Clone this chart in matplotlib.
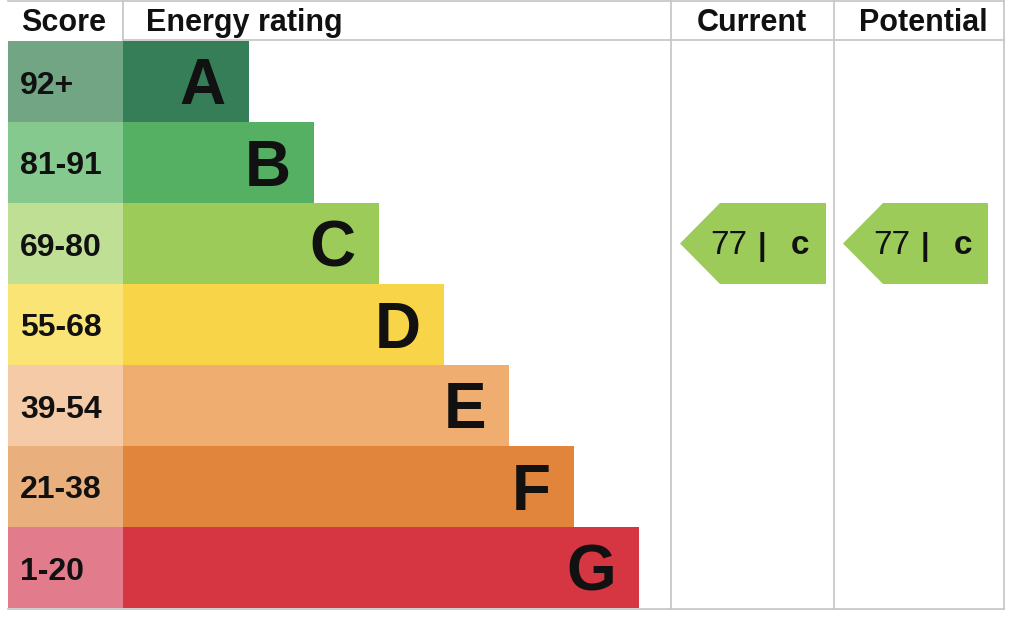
import matplotlib
matplotlib.use("Agg")
import matplotlib.pyplot as plt
from matplotlib.patches import Rectangle, Polygon

# ---- data ----
ratings = ["A", "B", "C", "D", "E", "F", "G"]
score_ranges = ["92+", "81-91", "69-80", "55-68", "39-54", "21-38", "1-20"]
score_lows = [92, 81, 69, 55, 39, 21, 1]
bar_colors = ["#367e58", "#55b063", "#9ccb5a", "#f8d448", "#efae70", "#e2853c", "#d63641"]
cell_colors = ["#72a584", "#86c98f", "#bfdf95", "#fbe476", "#f5caa6", "#e9b07e", "#e27b8c"]
headers = ["Score", "Energy rating", "Current", "Potential"]
current_score = 77
potential_score = 77

plt.rcParams["font.family"] = ["Liberation Sans", "DejaVu Sans"]

fig = plt.figure(figsize=(10.24, 6.28), dpi=100)
ax = fig.add_axes([0, 0, 1, 1])
ax.set_xlim(0, 1024)
ax.set_ylim(628, 0)
ax.axis("off")

left = 8
score_w = 115
bar_x0 = 123
row_top = 41
row_h = 81
bar_base = 126
bar_step = 65
col_cur = (671, 834)
col_pot = (834, 1004)
bottom = row_top + row_h * len(ratings)
grid = "#c8c8c8"
ink = "#111111"

for i, (r, s, bc, cc) in enumerate(zip(ratings, score_ranges, bar_colors, cell_colors)):
    y0 = row_top + i * row_h
    yc = y0 + row_h / 2
    ax.add_patch(Rectangle((left, y0), score_w, row_h, facecolor=cc, edgecolor="none"))
    w = bar_base + bar_step * i
    ax.add_patch(Rectangle((bar_x0, y0), w, row_h, facecolor=bc, edgecolor="none"))
    ax.text(left + 12, yc + 12, s, fontsize=23, fontweight="bold",
            ha="left", va="baseline", color=ink)
    ax.text(bar_x0 + w - 23, yc + 23, r, fontsize=46, fontweight="bold",
            ha="right", va="baseline", color=ink)

# grid lines
lw = 1.3
ax.plot([left, 1004], [0.7, 0.7], color=grid, lw=lw)
ax.plot([bar_x0, 1004], [40, 40], color=grid, lw=lw)
ax.plot([left, 1004], [bottom + 1, bottom + 1], color=grid, lw=lw)
ax.plot([bar_x0, bar_x0], [0, 40], color=grid, lw=lw)
for x in (col_cur[0], col_cur[1], col_pot[1]):
    ax.plot([x, x], [0, bottom + 1], color=grid, lw=lw)

# headers
hb = 31
hfs = 22
ax.text(21, hb, headers[0], fontsize=hfs, fontweight="bold", ha="left", va="baseline", color=ink)
ax.text(146, hb, headers[1], fontsize=hfs, fontweight="bold", ha="left", va="baseline", color=ink)
ax.text(752, hb, headers[2], fontsize=hfs, fontweight="bold", ha="center", va="baseline", color=ink)
ax.text(923, hb, headers[3], fontsize=hfs, fontweight="bold", ha="center", va="baseline", color=ink)


def band_index(score):
    for i, lo in enumerate(score_lows):
        if score >= lo:
            return i
    return len(score_lows) - 1


def arrow(col, score):
    i = band_index(score)
    y0 = row_top + i * row_h
    y1 = y0 + row_h
    ym = (y0 + y1) / 2
    x_tip = col[0] + 9
    x_sh = x_tip + 40
    x_r = col[1] - 8 - (8 if col == col_pot else 0)
    ax.add_patch(Polygon([(x_tip, ym), (x_sh, y0), (x_r, y0), (x_r, y1), (x_sh, y1)],
                         closed=True, facecolor=bar_colors[i], edgecolor="none"))
    ax.text(x_tip + 30, ym + 11, f"{score}", fontsize=24, ha="left", va="baseline", color=ink)
    ax.text(x_tip + 82, ym + 11, "|", fontsize=22, fontweight="bold", ha="center", va="baseline", color=ink)
    ax.text(x_tip + 120, ym + 11, ratings[i].lower(), fontsize=24, fontweight="bold",
            ha="center", va="baseline", color=ink)


arrow(col_cur, current_score)
arrow(col_pot, potential_score)

fig.savefig("out.png", dpi=100)
